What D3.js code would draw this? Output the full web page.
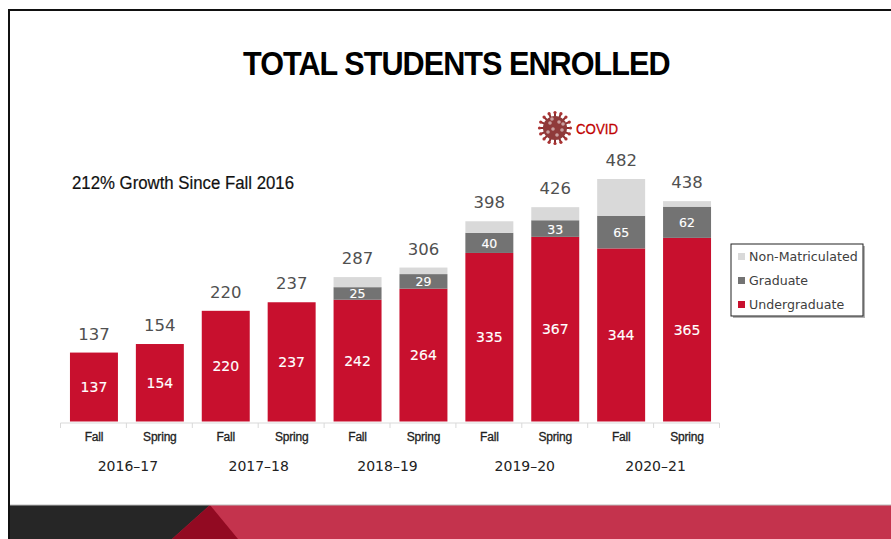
<!DOCTYPE html>
<html><head><meta charset="utf-8">
<script src="https://cdn.jsdelivr.net/npm/d3@7/dist/d3.min.js"></script>
<style>html,body{margin:0;padding:0;background:#fff}svg{display:block}</style></head>
<body><svg id="c" width="891" height="539"></svg>
<script>
const terms = ["Fall","Spring","Fall","Spring","Fall","Spring","Fall","Spring","Fall","Spring"];
const years = ["2016–17","2017–18","2018–19","2019–20","2020–21"];
const undergraduate = [137,154,220,237,242,264,335,367,344,365];
const graduate = [0,0,0,0,25,29,40,33,65,62];
const nonMatriculated = [0,0,0,0,20,13,23,26,73,11];
const totals = [137,154,220,237,287,306,398,426,482,438];
const seriesNames = ["Undergraduate","Graduate","Non-Matriculated"];
const seriesColors = ["#c8102e","#737373","#d9d9d9"];
const labelFont = "'DejaVu Sans',Verdana,sans-serif";
const sans = "'Liberation Sans',Arial,sans-serif";

const svg = d3.select("#c");
svg.append("rect").attr("width",891).attr("height",539).attr("fill","#fff");
svg.append("path").attr("d","M9,539V10H891").attr("fill","none").attr("stroke","#111").attr("stroke-width",2);
svg.append("rect").attr("x",10).attr("y",505).attr("width",881).attr("height",34).attr("fill","#c4334d");
svg.append("path").attr("d","M10,505H210L172,539H10Z").attr("fill","#262626");
svg.append("path").attr("d","M210,505L238,539H172Z").attr("fill","#920a22");
svg.append("line").attr("x1",10).attr("x2",891).attr("y1",505).attr("y2",505).attr("stroke","#bbb").attr("stroke-width",1);

svg.append("text").attr("x",243).attr("y",75)
  .attr("font-family",sans).attr("font-weight",700).attr("font-size",34)
  .attr("textLength",428).attr("lengthAdjust","spacing")
  .attr("transform","translate(243,0) scale(0.9,1) translate(-243,0)")
  .attr("fill","#000").text("TOTAL STUDENTS ENROLLED")
  .attr("textLength",475);
svg.append("text").attr("x",72).attr("y",189).attr("font-family",sans)
  .attr("font-size",17.5).attr("textLength",222).attr("lengthAdjust","spacingAndGlyphs")
  .attr("stroke","#111").attr("stroke-width",.2)
  .attr("fill","#111").text("212% Growth Since Fall 2016");

const keys = d3.range(terms.length);
const x = d3.scaleBand().domain(keys).range([61,720]).paddingInner(0.272).paddingOuter(0.136);
const y = d3.scaleLinear().domain([0,482]).range([421.5,179]);
const rows = keys.map(i=>({i,u:undergraduate[i],g:graduate[i],n:nonMatriculated[i]}));
const stack = d3.stack().keys(["u","g","n"])(rows);

svg.append("g").selectAll("g").data(stack).join("g").attr("fill",(d,i)=>seriesColors[i])
 .selectAll("rect").data(d=>d.filter(p=>p[1]>p[0])).join("rect")
 .attr("x",d=>x(d.data.i)).attr("width",x.bandwidth())
 .attr("y",d=>y(d[1])).attr("height",d=>y(d[0])-y(d[1]));

stack.slice(0,2).forEach(s=>{
  svg.append("g").selectAll("text").data(s.filter(p=>p[1]>p[0])).join("text")
   .attr("x",d=>x(d.data.i)+x.bandwidth()/2).attr("y",d=>(y(d[0])+y(d[1]))/2+5)
   .attr("text-anchor","middle").attr("font-family",labelFont).attr("font-size",d=>s.key==="u"?14:12.5)
   .attr("fill","#fff").attr("stroke","#fff").attr("stroke-width",.15).text(d=>d[1]-d[0]);
});
svg.append("g").selectAll("text").data(keys).join("text")
 .attr("x",i=>x(i)+x.bandwidth()/2).attr("y",i=>y(totals[i])-13)
 .attr("text-anchor","middle").attr("font-family",labelFont).attr("font-size",16.5)
 .attr("fill","#505050").text(i=>totals[i]);

const axisY = 423;
const step = x.step();
const ticks = d3.range(terms.length+1).map(i=>60.5+i*step);
svg.append("line").attr("x1",60.5).attr("x2",719.5).attr("y1",axisY).attr("y2",axisY).attr("stroke","#d9d9d9");
svg.append("g").selectAll("line").data(ticks).join("line")
 .attr("x1",d=>d).attr("x2",d=>d).attr("y1",axisY).attr("y2",axisY+5).attr("stroke","#d9d9d9");
svg.append("g").selectAll("text").data(keys).join("text")
 .attr("x",i=>x(i)+x.bandwidth()/2).attr("y",441).attr("text-anchor","middle")
 .attr("font-family",sans).attr("font-size",12).attr("letter-spacing",-0.2)
 .attr("stroke","#222").attr("stroke-width",.3)
 .attr("fill","#222").text(i=>terms[i]);
// the reference's group labels sit slightly off the centre of their pairs
const yearNudge = [1,0,-3,2.5,1.5];
svg.append("g").selectAll("text").data(years).join("text")
 .attr("x",(d,i)=>(x(i*2)+x(i*2+1)+x.bandwidth())/2+yearNudge[i]).attr("y",471).attr("text-anchor","middle")
 .attr("font-family",labelFont).attr("font-size",14).attr("fill","#222").text(d=>d);

const lg = svg.append("g");
lg.append("rect").attr("x",733).attr("y",246).attr("width",132).attr("height",72).attr("fill","#666").attr("opacity",.5);
lg.append("rect").attr("x",731).attr("y",244).attr("width",132).attr("height",72).attr("fill","#fff").attr("stroke","#222").attr("stroke-width",1);
[2,1,0].forEach((s,k)=>{
  const cy = 256.5+k*24;
  lg.append("rect").attr("x",738).attr("y",cy-3.5).attr("width",7).attr("height",7).attr("fill",seriesColors[s]);
  lg.append("text").attr("x",749).attr("y",cy+4.5).attr("font-family",labelFont).attr("font-size",12.6)
    .attr("fill","#404040").text(seriesNames[s]);
});

const vx=555, vy=128, vr=12;
const v = svg.append("g").attr("transform",`translate(${vx},${vy})`);
const spikes = d3.range(16).map(i=>i/16*2*Math.PI);
v.selectAll("line").data(spikes).join("line")
 .attr("x2",a=>Math.cos(a)*(vr+4)).attr("y2",a=>Math.sin(a)*(vr+4))
 .attr("stroke","#8c2f2f").attr("stroke-width",2);
v.selectAll("circle.tip").data(spikes).join("circle").attr("class","tip")
 .attr("cx",a=>Math.cos(a)*(vr+3.5)).attr("cy",a=>Math.sin(a)*(vr+3.5)).attr("r",1.6).attr("fill","#a33");
v.append("circle").attr("r",vr).attr("fill","#8f3a3a");
const spots = [[-5,-5],[4,-6],[7,2],[-2,1],[-7,4],[2,7],[-3,-9],[8,-4]];
v.selectAll("circle.s").data(spots).join("circle").attr("class","s")
 .attr("cx",d=>d[0]).attr("cy",d=>d[1]).attr("r",1.8).attr("fill","#c9a0a0");
svg.append("text").attr("x",576).attr("y",134).attr("font-family",sans)
 .attr("font-size",15).attr("textLength",42).attr("lengthAdjust","spacingAndGlyphs")
 .attr("fill","#c00000").attr("stroke","#c00000").attr("stroke-width",.3).text("COVID");
</script></body></html>
